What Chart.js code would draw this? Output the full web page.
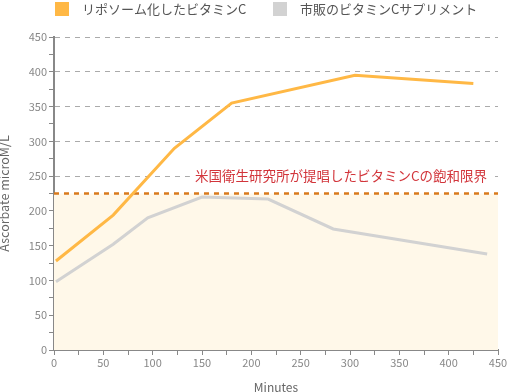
<!DOCTYPE html>
<html><head><meta charset="utf-8">
<script src="https://cdn.jsdelivr.net/npm/chart.js@4"></script>
<style>html,body{margin:0;padding:0;background:#fff}#c{display:block}</style>
</head><body>
<canvas id="c" width="510" height="392"></canvas>
<script>
const seriesNames = ['リポソーム化したビタミンC', '市販のビタミンCサプリメント'];
const liposomalMinutes = [2, 60, 122, 180, 305, 425];
const liposomalValues  = [128, 194, 290, 355, 395, 383];
const commercialMinutes = [2, 60, 95, 150, 217, 283, 439];
const commercialValues  = [98, 152, 190, 220, 217, 174, 138];
const saturationValue = 225;
const saturationLabel = '米国衛生研究所が提唱したビタミンCの飽和限界';
const xRange = [0, 450];
const yRange = [0, 450];

const toPts = (xs, ys) => xs.map((x, i) => ({x, y: ys[i]}));
const FONT = '"Noto Sans CJK JP", "Noto Sans", sans-serif';

const labelPlugin = {
  id: 'satLabel',
  afterDatasetsDraw(chart) {
    const {ctx, chartArea, scales} = chart;
    const y = scales.y.getPixelForValue(250);
    ctx.save();
    ctx.font = '13.5px ' + FONT;
    const w = ctx.measureText(saturationLabel).width;
    const xr = chartArea.right - 11;
    ctx.fillStyle = '#fff';
    ctx.fillRect(xr - w - 5, y - 8, w + 10, 16);
    ctx.fillStyle = '#d2353b';
    ctx.textAlign = 'right';
    ctx.textBaseline = 'middle';
    ctx.fillText(saturationLabel, xr, y);
    ctx.restore();
  }
};

const legendPlugin = {
  id: 'topLegend',
  afterDraw(chart) {
    const {ctx} = chart;
    const starts = [55, 273];
    ctx.save();
    ctx.font = '13px ' + FONT;
    ctx.textBaseline = 'middle';
    ctx.textAlign = 'left';
    [0, 1].forEach(i => {
      const ds = chart.data.datasets[i];
      ctx.fillStyle = ds.borderColor;
      ctx.fillRect(starts[i], 2, 14, 14);
      ctx.fillStyle = '#555';
      ctx.fillText(ds.label, starts[i] + 27, 9);
    });
    ctx.restore();
  }
};

new Chart(document.getElementById('c'), {
  type: 'line',
  data: {
    datasets: [
      { label: seriesNames[0], data: toPts(liposomalMinutes, liposomalValues),
        borderColor: '#ffb845', backgroundColor: '#ffb845', borderWidth: 3,
        pointRadius: 0, tension: 0, order: 1 },
      { label: seriesNames[1], data: toPts(commercialMinutes, commercialValues),
        borderColor: '#d2d2d2', backgroundColor: '#d2d2d2', borderWidth: 3,
        pointRadius: 0, tension: 0, order: 2 },
      { label: 'saturation', data: toPts(xRange, [saturationValue, saturationValue]),
        borderColor: '#d97a1c', borderWidth: 2.5, borderDash: [5, 5],
        backgroundColor: '#fff8e9', fill: 'origin', pointRadius: 0, order: 3 }
    ]
  },
  options: {
    responsive: false, animation: false,
    layout: { padding: { left: 0, right: 12, top: 37, bottom: 0 } },
    plugins: {
      legend: { display: false },
      tooltip: { enabled: false }
    },
    scales: {
      x: {
        type: 'linear', min: xRange[0], max: xRange[1],
        ticks: { stepSize: 25, color: '#888', font: { family: FONT, size: 11 },
          autoSkip: false, maxRotation: 0, padding: 1,
          callback: v => (v % 50 === 0 ? v : '') },
        grid: { drawOnChartArea: false, tickLength: 5, tickColor: '#888' },
        border: { color: '#888', width: 2 },
        title: { display: true, text: 'Minutes', color: '#666', font: { family: FONT, size: 12 }, padding: { top: 12, bottom: -2.5 } },
        afterFit: s => { s.height = 42; }
      },
      y: {
        min: yRange[0], max: yRange[1],
        ticks: { stepSize: 25, color: '#888', font: { family: FONT, size: 11 },
          autoSkip: false, padding: 2,
          callback: v => (v % 50 === 0 ? v : '') },
        grid: { color: c => (c.tick && c.tick.value % 50 === 0 ? '#aaa' : 'rgba(0,0,0,0)'),
          tickColor: '#888', tickLength: 5, drawTicks: true },
        border: { color: '#888', width: 2, dash: [5, 5] },
        title: { display: true, text: 'Ascorbate microM/L', color: '#666', font: { family: FONT, size: 12.5 }, padding: { top: -3, bottom: 2 } },
        afterFit: s => { s.width = 54; }
      }
    }
  },
  plugins: [labelPlugin, legendPlugin]
});
</script>
</body></html>
